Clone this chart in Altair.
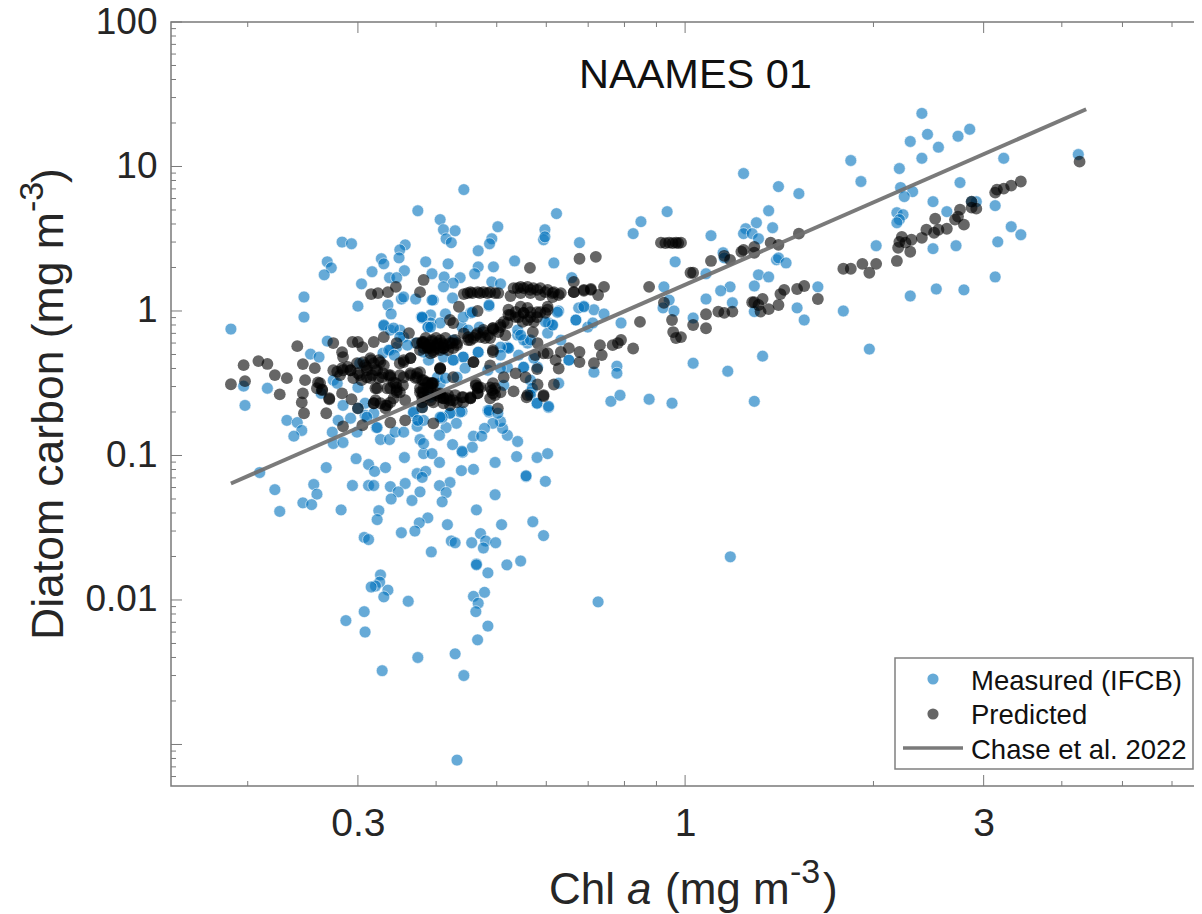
import altair as alt
import pandas as pd

measured_pairs = [
(.209,.0762),(.221,.058),(.225,.041),(.255,.063),(.258,.054),(.245,.047),(.253,.0457),(.282,.042),(.267,.0825),(.298,.095),
(.312,.0866),(.319,.0776),(.332,.0825),(.294,.062),(.312,.062),(.318,.062),(.338,.0609),(.357,.064),(.348,.056),(.339,.05),
(.366,.0488),(.377,.056),(.373,.075),(.385,.0776),(.38,.0705),(.356,.0968),(.382,.103),(.394,.103),(.405,.0895),(.441,.105),
(.439,.0785),(.459,.0802),(.497,.0895),(.538,.0983),(.58,.0968),(.603,.103),(.557,.0715),(.598,.0662),(.497,.0535),(.421,.065),
(.405,.0619),(.415,.0554),(.409,.0478),(.464,.042),(.388,.037),(.376,.0342),(.37,.03),(.352,.0292),(.324,.0415),(.322,.036),
(.307,.0271),(.312,.0262),(.417,.0332),(.509,.0332),(.571,.0348),(.594,.0279),(.471,.0288),(.423,.0256),(.429,.0249),(.456,.0249),
(.48,.0256),(.498,.0249),(.476,.0229),(.393,.0215),(.546,.0186),(.519,.0175),(.464,.0178),(.464,.0175),(.484,.0154),(.326,.0149),
(.325,.0133),(.32,.0125),(.315,.0123),(.335,.0117),(.33,.0105),(.361,.0098),(.478,.0113),(.459,.0106),(.467,.0095),(.463,.0083),
(.484,.0066),(.466,.0053),(.429,.00424),(.374,.004),(.443,.003),(.328,.00324),(.307,.0083),(.287,.0072),(.308,.006),(.432,.00078),
(1.181,.0199),(.726,.0097),
(.374,4.94),(.283,3.0),(.293,2.92),(.268,2.19),(.272,1.99),(.265,1.78),(.357,2.87),(.35,2.65),(.349,2.33),(.327,2.3),
(.33,2.12),(.316,1.87),(.385,2.19),(.356,1.9),(.304,1.54),(.337,1.7),(.346,1.7),(.246,1.25),(.246,.908),(.188,.75),
(.3,1.08),(.335,1.1),(.339,.954),(.352,1.21),(.355,1.25),(.371,1.21),(.379,.908),(.33,.787),(.268,.619),(.252,.503),
(.26,.48),(.197,.302),(.215,.292),(.198,.222),(.231,.175),(.24,.169),(.244,.149),(.237,.136),(.274,.121),(.284,.123),
(.273,.145),(.279,.175),(.284,.222),(.292,.181),(.326,.129),(.337,.129),(.321,.156),(.299,.145),(.344,.145),(.355,.145),
(.374,.175),(.373,.159),(.377,.129),(.382,.121),(.308,.19),
(.443,6.92),(.623,4.72),(.406,4.29),(.411,3.65),(.429,3.59),(.415,3.16),(.423,2.97),(.502,3.83),(.491,3.16),(.487,2.92),
(.467,2.61),(.597,3.65),(.594,3.11),(.597,3.26),(.678,2.97),(.418,2.12),(.467,2.02),(.461,1.81),(.494,2.02),(.534,2.22),
(.617,2.15),(.826,3.43),(.85,4.15),(.936,4.87),(.964,2.19),(.394,1.81),(.412,1.72),(.437,1.7),(.426,1.56),(.411,1.47),
(.491,1.59),(.507,1.54),(.396,1.19),(.425,1.23),(.659,1.7),(.925,1.47),(.943,1.19),(.922,1.05),(.96,1.0),(.79,.826),
(.669,.866),(.689,1.08),(.676,1.05),(.715,1.02),(.742,.954),(.628,1.0),(.699,.774),(.712,.826),(.652,.457),(.715,.377),
(.778,.415),(.778,.371),(.761,.237),(.787,.261),(.876,.245),(.953,.23),(.605,.215),(.58,.23),(.557,.0724),(.54,.125),
(.52,.138),(.511,.154),(.507,.172),(.493,.167),(.478,.154),(.459,.136),(.473,.136),(.457,.114),(.44,.107),(.425,.119),
(.431,.167),(.415,.156),(.405,.138),(.408,.181),(.421,.196),(.44,.202),(.484,.205),(.486,.2),
(.392,.938),(.38,.894),(.414,.954),(.392,.826),(.454,.968),(.486,1.08),(.469,.774),(.44,.774),(.442,.908),(.426,.629),
(.426,.457),(.411,.48),(.442,.48),(.467,.519),(.522,.553),(.54,.681),(.56,.6),(.605,.826),(.614,.8),(.603,.703),
(.633,.629),(.552,.408),(.581,.408),(.566,.274),(.628,.316),(.484,.389),(.52,.408),(.566,.332),(.52,.562),(.432,.348),
(.406,.316),(.392,.253),(.382,.175),(.389,.774),(.346,.562),(.329,.511),(.338,.536),(.302,.435),(.355,.66),(.371,.6),
(.338,.738),(.35,.738),(.3,.296),(.274,.332),(.262,.269),(.368,.196),(.318,.196),(.31,.184),
(2.39,23.3),(2.44,16.7),(2.29,14.9),(2.54,13.6),(2.73,16.2),(2.85,18.1),(1.84,11.0),(1.91,7.87),(2.2,9.68),(2.39,11.4),
(3.23,11.4),(4.25,12.1),(2.75,7.74),(2.21,7.15),(2.31,6.7),(2.24,6.19),(2.49,5.71),(2.62,4.87),(2.18,4.79),(2.23,4.64),
(2.2,4.29),(2.18,4.08),(2.92,5.71),(2.87,5.71),(3.13,5.36),(3.32,3.83),(3.44,3.37),(3.16,3.01),(2.02,2.83),(2.49,2.7),
(2.71,2.83),(3.13,1.72),(2.29,1.27),(2.52,1.42),(2.79,1.4),(1.79,1.0),(1.97,.545),(1.24,8.94),(1.41,7.26),(1.52,6.49),
(1.36,4.94),(1.3,4.08),(1.38,3.77),(1.25,3.71),(1.24,3.43),(1.28,3.43),(1.31,3.16),(1.1,3.32),(1.15,2.53),(1.155,2.33),
(1.4,2.26),(1.41,2.33),(1.45,2.15),(1.31,1.78),(1.36,1.72),(1.29,1.49),(1.18,1.47),(1.14,1.38),(1.08,1.21),(1.19,1.14),
(1.08,1.81),(1.63,1.47),(1.51,1.05),(1.55,.866),(1.29,.99),(1.03,.894),(1.03,.435),(1.17,.383),(1.33,.487),(1.29,.237),
(.394,1.19),(.38,.908),(.406,.826),(.388,.774),(.457,.98),(.486,1.1),(.45,.738),(.54,.738),(.552,.63),(.566,.63),
(.546,.68),(.614,.8),(.598,.84),(.625,.98),(.522,.553),(.542,.495),(.507,.562),(.507,.495),(.467,.519),(.442,.48),
(.426,.457),(.445,.402),(.507,.402),(.552,.408),(.573,.472),(.652,.457),(.669,.866),(.689,1.07),(.389,.457),(.382,.519),
(.402,.348),(.414,.343),(.513,.306),(.57,.292),(.566,.262),(.58,.23),(.605,.219),(.486,.205),(.502,.196),(.437,.2),
(.421,.196),(.409,.184),(.38,.215),
(.33,.8),(.342,.762),(.336,.536),(.343,.495),(.35,.66),(.36,.58),(.308,.23),(.322,.156),(.368,.2),(.374,.175),
(.406,.184),(.392,.774),(.278,.316),(.3,.212),
]

predicted_pairs = [
(4.27,10.8),(3.44,7.87),(3.32,7.38),(3.23,7.03),(3.15,6.92),(3.13,6.6),(2.87,5.71),(2.87,5.19),(2.92,5.11),(2.75,5.03),
(2.73,4.5),(2.7,4.29),(2.79,3.96),(2.62,3.71),(2.51,4.35),(2.54,3.65),(2.5,3.48),(2.43,3.65),(2.39,3.21),(2.3,3.11),
(2.22,3.26),(2.2,3.01),(2.25,2.97),(2.19,2.74),(2.29,2.57),(2.18,2.22),(2.02,2.12),(1.97,1.84),(1.92,2.12),(1.84,1.96),
(1.79,1.96),(1.63,1.21),(1.55,1.49),(1.51,1.42),(1.44,1.4),(1.42,1.31),(1.41,1.1),(1.36,1.03),(1.33,1.21),(1.32,.99),
(1.29,1.15),(1.31,1.1),(1.28,1.15),(1.19,.99),(1.155,.97),(1.13,.99),(1.08,.95),(1.08,.76),(1.03,.8),(.985,.66),
(1.52,3.43),(1.41,2.87),(1.37,2.97),(1.29,2.78),(1.29,2.53),(1.24,2.65),(1.23,2.57),(1.18,2.26),(1.155,2.41),(1.1,2.22),
(1.03,1.84),(1.02,1.84),(.985,2.97),(.967,2.97),(.943,2.97),(.915,2.97),(.93,2.95),(.955,2.95),(.975,2.95),
(.876,1.47),(.847,.84),(.925,1.14),(.953,.866),(.957,.715),(.967,.65),(.678,2.3),(.72,2.37),(.565,1.99),(.826,.55),
(.79,.63),(.781,.6),(.766,.58),(.736,.495),(.731,.58),(.715,.435),(.678,.52),(.678,.443),(.652,.553),(.628,.4),
(.621,.457),(.633,.52),(.603,.51),(.581,.6),(.617,.31),(.594,.257),(.581,.31),(.558,.253),(.532,.278),(.58,.396),
(.556,.348),(.536,.37),(.513,.348),
(.443,1.31),(.454,1.35),(.466,1.35),(.476,1.35),(.488,1.35),(.503,1.33),(.526,1.27),(.54,1.44),(.552,1.44),(.566,1.4),
(.58,1.4),(.598,1.35),(.614,1.33),(.628,1.29),(.664,1.35),(.689,1.38),(.707,1.42),(.726,1.29),(.742,1.47),(.664,1.59),
(.536,.908),(.552,.97),(.566,.908),(.58,.98),(.603,1.07),(.598,.97),(.546,1.07),(.56,1.05),(.522,1.02),(.571,.715),
(.507,.8),(.493,.76),(.476,.74),(.463,.68),(.45,.66),(.516,.68),(.522,.94),(.466,1.0),(.435,1.07),(.421,.866),
(.426,.826),(.493,.52),(.459,.443),(.406,.396),(.426,.348),(.488,.42),
(.382,.6),(.392,.58),(.402,.6),(.411,.58),(.421,.6),(.432,.58),(.392,.51),(.406,.536),(.443,.7),
(.377,.274),(.388,.296),(.394,.316),(.38,.233),(.392,.241),(.406,.253),(.416,.249),(.426,.241),(.44,.253),(.454,.249),
(.466,.269),(.467,.296),(.463,.316),(.488,.296),(.493,.269),(.488,.249),(.502,.212),(.396,.167),(.377,.377),(.38,.332),
(.188,.311),(.198,.327),(.197,.422),(.208,.45),(.215,.43),(.221,.36),(.231,.343),(.225,.265),(.24,.571),(.245,.429),
(.247,.332),(.245,.269),(.244,.233),(.246,.196),(.267,.196),(.27,.245),(.259,.32),(.256,.402),(.263,.287),(.274,.6),
(.283,.519),(.284,.48),(.294,.61),(.3,.61),(.305,.562),(.274,.389),(.283,.402),(.292,.389),(.283,.269),(.293,.245),
(.3,.212),(.284,.159),(.305,.162),(.318,.23),(.332,.222),(.338,.169),(.357,.175),(.357,.241),(.346,.283),(.334,.292),
(.322,.292),(.302,.36),(.31,.408),(.322,.389),(.328,.348),(.338,.348),(.315,.457),(.326,.443),(.31,.348),(.355,.443),
(.364,.472),(.373,.348),(.355,.348),(.382,.269),(.38,.215),(.38,.6),(.388,.562),(.362,.703),(.346,.6),(.33,.66),
(.318,.61),(.315,1.31),(.323,1.33),(.335,1.35),(.345,1.47),(.382,1.64),(.377,1.35),
(.299,.435),(.306,.443),(.314,.472),(.324,.457),(.33,.422),(.3,.371),(.31,.389),(.32,.389),(.329,.371),(.304,.332),
(.314,.343),(.324,.343),(.284,.389),(.278,.38),(.289,.41),(.281,.36),
(.373,.6),(.382,.61),(.394,.629),(.406,.629),(.388,.553),(.396,.519),(.377,.536),(.411,.553),
(.338,.36),(.35,.36),(.364,.36),(.373,.371),(.388,.32),(.394,.306),(.346,.296),(.338,.292),(.35,.274),(.377,.292),
(.389,.274),(.342,.32),(.355,.457),(.364,.472),(.35,.435),(.406,.402),
(.326,.23),(.334,.222),(.318,.23),(.338,.233),(.263,.283),(.258,.292),(.27,.249),(.261,.316),(.411,.249),(.402,.269),
(.449,1.33),(.457,1.33),(.47,1.33),(.483,1.33),(.497,1.33),
(.532,1.44),(.546,1.47),(.56,1.47),(.572,1.44),(.587,1.44),(.603,1.4),(.617,1.35),(.633,1.33),(.546,1.33),(.566,1.33),
(.587,1.29),(.614,1.25),(.689,1.4),(.707,1.4),(.664,1.35),
(.542,.908),(.552,.97),(.566,.98),(.58,.908),(.56,.866),(.55,.84),(.573,.84),(.587,.98),(.603,1.02),
(.459,.65),(.471,.66),(.484,.68),(.494,.74),(.507,.774),(.52,.826),(.476,.715),(.45,.63),(.488,.65),
(.38,.61),(.388,.58),(.394,.61),(.402,.58),(.409,.6),(.416,.58),(.425,.6),(.432,.6),(.396,.536),(.411,.553),(.426,.553),
(.382,.292),(.392,.296),(.388,.262),(.4,.262),(.411,.249),(.421,.241),(.432,.233),(.442,.253),(.454,.253),(.466,.269),
(.463,.306),(.471,.296),(.491,.283),(.497,.262),(.507,.274),
(.406,.402),(.493,.536),(.459,.443),(.594,.262),(.56,.262),(.594,.51),(.576,.495),
(.454,.63),(.466,.703),(.479,.65),(.493,.76),(.503,.715),(.513,.84),(.526,.938),(.536,.984),
(.385,.65),(.4,.65),(.414,.65),(.429,.63),(.382,.553),(.392,.553),(.403,.553),(.418,.536),
(.382,.332),(.394,.316),(.406,.269),(.418,.262),(.429,.262),(.442,.233),(.454,.249),(.466,.292),(.38,.253),(.396,.233),
(.411,.23),(.421,.222),(.493,.316),(.497,.292),
(.292,.389),(.295,.343),(.308,.422),(.318,.435),(.316,.36),(.336,.36),(.345,.316),(.354,.306),(.364,.371),(.371,.343),
(.38,.274),(.385,.32),(.396,.316),(.346,.274),(.342,.249),(.32,.292),(.32,.241),(.332,.212),
]

chase_x = [0.188, 4.375]
chase_y = [0.064, 24.9]

x_labels = [0.3, 1, 3]
y_labels = [100, 10, 1, 0.1, 0.01]
x_major = [0.3, 1, 3]
x_minor = [0.2, 0.4, 0.5, 0.6, 0.7, 0.8, 0.9, 2, 4, 5, 6]
y_major = [100, 10, 1, 0.1, 0.01, 0.001]
y_minor = [m * d for d in (10, 1, 0.1, 0.01, 0.001) for m in (2, 3, 4, 5, 6, 7, 8, 9)]
y_minor = y_minor + [0.0006, 0.0007, 0.0008, 0.0009]

W, H = 1031, 764
FONT = "Liberation Sans"
INK = "#262626"
FRAME = "#7a7a7a"
xs = alt.Scale(type="log", domain=[0.1508, 6.70], nice=False)
ys = alt.Scale(type="log", domain=[0.000516, 100], nice=False)

measured = pd.DataFrame(measured_pairs, columns=["x", "y"])
predicted = pd.DataFrame(predicted_pairs, columns=["x", "y"])
chase = pd.DataFrame({"x": chase_x, "y": chase_y})

x_axis = alt.Axis(values=x_labels, format="~g", ticks=False, domain=False, grid=False,
                  labelFont=FONT, labelFontSize=39, labelColor=INK, labelPadding=18, labelFlush=False)
y_axis = alt.Axis(values=y_labels, format="~g", ticks=False, domain=False, grid=False,
                  labelFont=FONT, labelFontSize=37, labelColor=INK, labelPadding=14, labelFlush=False)
X = alt.X("x:Q", scale=xs, title=None, axis=x_axis)
Y = alt.Y("y:Q", scale=ys, title=None, axis=y_axis)

def xticks(vals, n):
    d = pd.DataFrame({"x": vals})
    base = alt.Chart(d).mark_rule(color=FRAME, strokeWidth=1)
    return (base.encode(x=X, y=alt.value(H), y2=alt.value(H - n))
            + base.encode(x=X, y=alt.value(0), y2=alt.value(n)))

def yticks(vals, n):
    d = pd.DataFrame({"y": vals})
    base = alt.Chart(d).mark_rule(color=FRAME, strokeWidth=1)
    return base.encode(y=Y, x=alt.value(0), x2=alt.value(n))

blue = alt.Chart(measured).mark_circle(
    size=140, color="#0072BD", fillOpacity=0.6, stroke="#ffffff", strokeOpacity=0.55, strokeWidth=1
).encode(x=X, y=Y)
dark = alt.Chart(predicted).mark_circle(size=140, color="#000000", fillOpacity=0.6).encode(x=X, y=Y)
line = alt.Chart(chase).mark_line(color="#6f6f6f", strokeWidth=4, opacity=0.92).encode(x=X, y=Y)

def text(s, px, py, size, angle=0, style="normal", color=INK):
    return alt.Chart(pd.DataFrame({"t": [s]})).mark_text(
        font=FONT, fontSize=size, fontStyle=style, align="left", baseline="alphabetic",
        angle=angle, color=color
    ).encode(text="t:N", x=alt.value(px - 171), y=alt.value(py - 22))

labels = [
    text("NAAMES 01", 579, 88, 41.5, color="#111111"),
    text("Chl ", 549, 904, 44),
    text("a", 627, 904, 44, style="italic"),
    text("(mg m", 665, 904, 44),
    text("-3", 790, 883, 34),
    text(")", 823, 904, 44),
    text("Diatom carbon (mg m", 63, 640, 44.5, angle=270),
    text("-3", 43, 212, 34, angle=270),
    text(")", 63, 183, 44.5, angle=270),
]

one = pd.DataFrame({"k": [0]})
legend_box = alt.Chart(one).mark_rect(fill="#ffffff", stroke="#808080", strokeWidth=1.5).encode(
    x=alt.value(895 - 171), x2=alt.value(1193 - 171), y=alt.value(658 - 22), y2=alt.value(769 - 22))
legend_blue = alt.Chart(one).mark_circle(size=125, color="#0072BD", opacity=0.6).encode(
    x=alt.value(933 - 171), y=alt.value(679 - 22))
legend_dark = alt.Chart(one).mark_circle(size=125, color="#000000", opacity=0.6).encode(
    x=alt.value(933 - 171), y=alt.value(714 - 22))
legend_line = alt.Chart(one).mark_rule(color="#7a7a7a", strokeWidth=3.5).encode(
    x=alt.value(903 - 171), x2=alt.value(963 - 171), y=alt.value(748 - 22))
legend_text = [
    text("Measured (IFCB)", 971, 690, 27.5, color="#111111"),
    text("Predicted", 971, 724, 27.5, color="#111111"),
    text("Chase et al. 2022", 971, 759, 27.5, color="#111111"),
]

chart = alt.layer(
    xticks(x_major, 11), xticks(x_minor, 5), yticks(y_major, 11), yticks(y_minor, 5),
    blue, dark, line,
    legend_box, legend_blue, legend_dark, legend_line, *legend_text,
    *labels,
).properties(
    width=W, height=H,
    autosize=alt.AutoSizeParams(type="none"),
    padding={"left": 163, "top": 14, "right": -8, "bottom": 128},
    background="#ffffff",
).configure_view(stroke=FRAME, strokeWidth=1.5)

chart.save("out.html", embed_options={"renderer": "svg", "actions": False})
